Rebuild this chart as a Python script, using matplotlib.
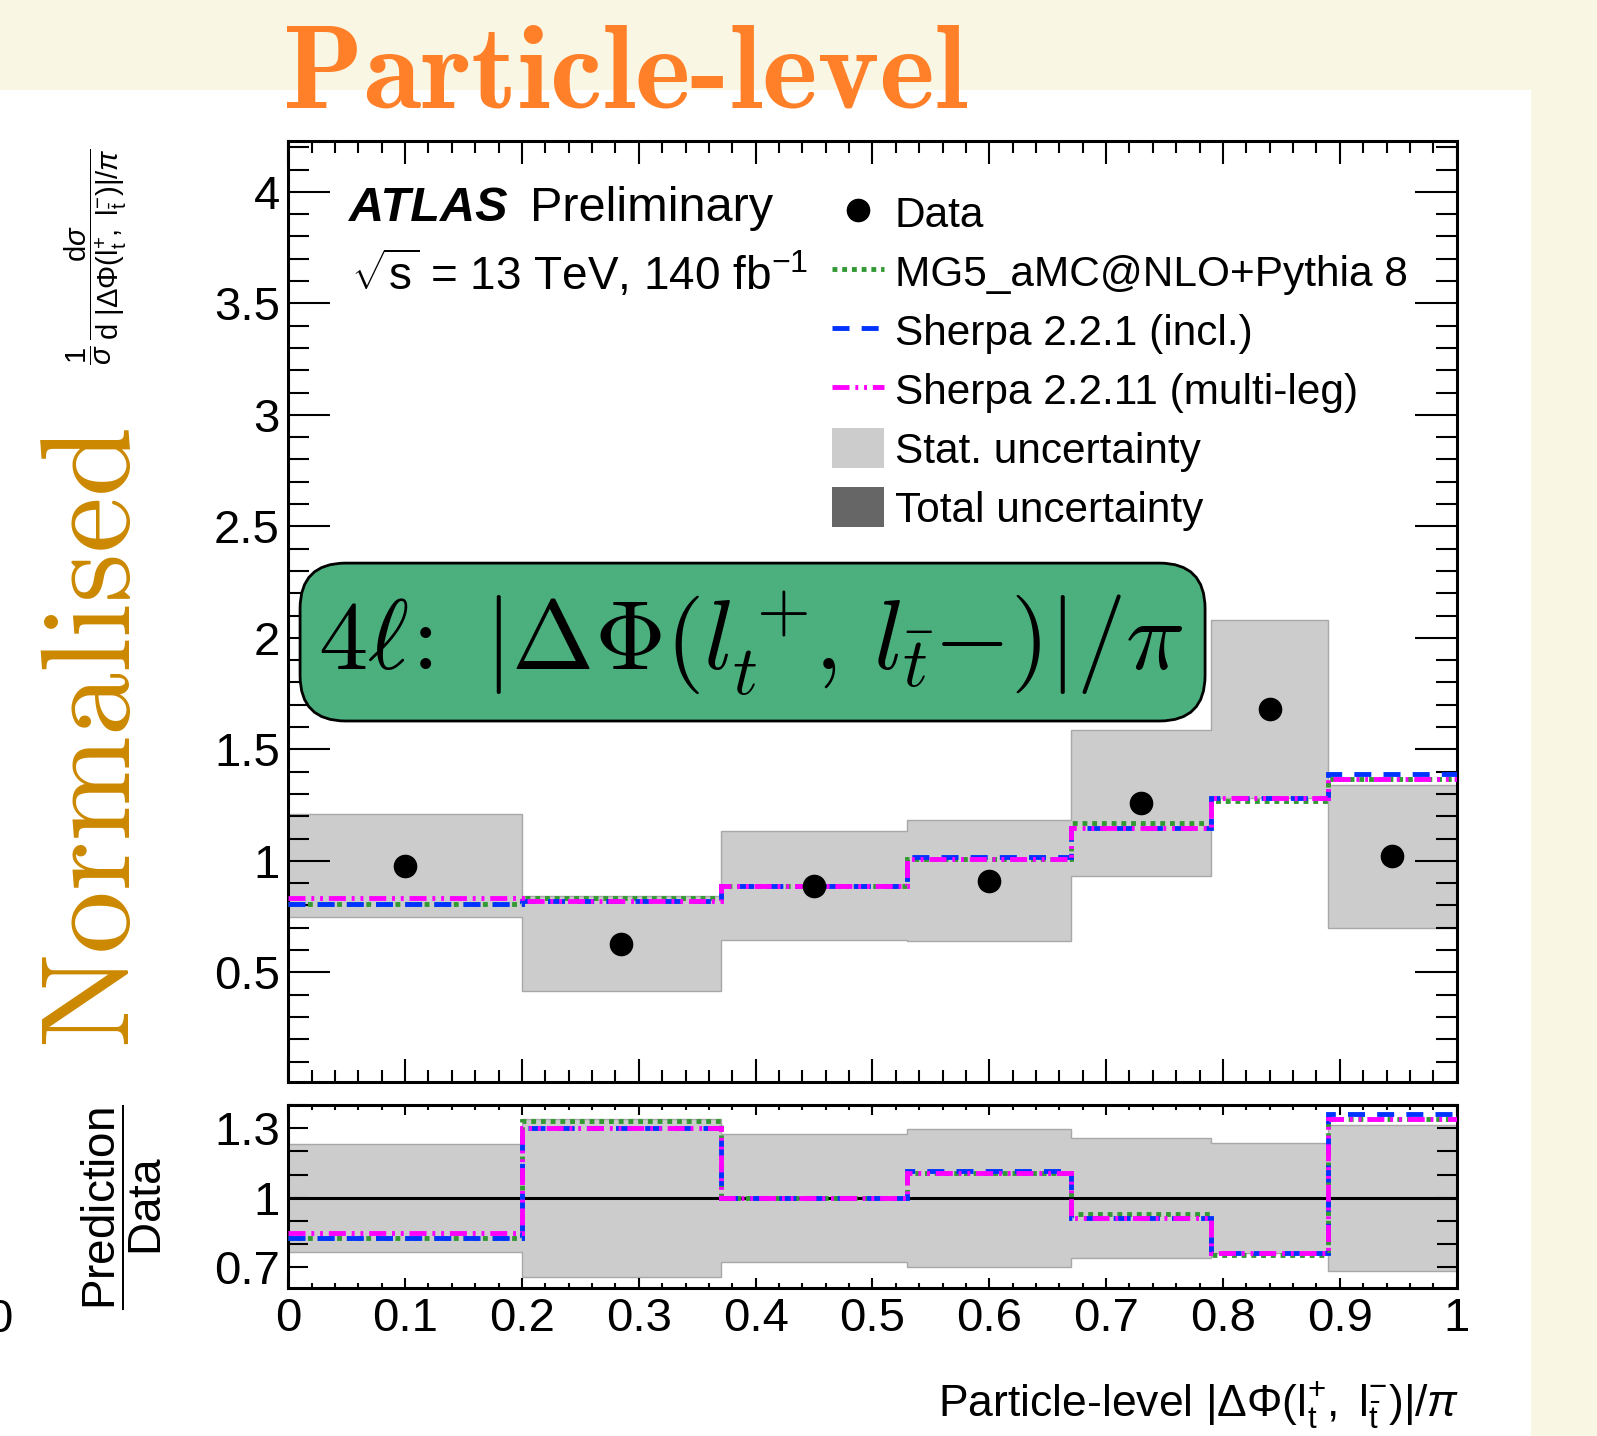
import numpy as np
import matplotlib
matplotlib.use('Agg')
import matplotlib.pyplot as plt
from matplotlib.patches import FancyBboxPatch, Patch, Rectangle
from matplotlib.lines import Line2D
from matplotlib.ticker import MultipleLocator, FixedLocator, FormatStrFormatter

plt.rcParams['font.family'] = ['Liberation Sans', 'DejaVu Sans']
plt.rcParams['mathtext.fontset'] = 'custom'
plt.rcParams['mathtext.rm'] = 'Liberation Sans'
plt.rcParams['mathtext.it'] = 'Liberation Sans:italic'
plt.rcParams['mathtext.bf'] = 'Liberation Sans:bold'

# |dPhi(l+, l-)|/pi binning
edges = [0.0, 0.2, 0.37, 0.53, 0.67, 0.79, 0.89, 1.0]
centres = [0.1, 0.285, 0.45, 0.6, 0.73, 0.84, 0.945]

# unfolded data and stat. uncertainty
data = [0.979, 0.628, 0.888, 0.911, 1.258, 1.682, 1.021]
stat_err = [0.229, 0.213, 0.245, 0.272, 0.327, 0.400, 0.320]

# predictions
mg5 = [0.808, 0.835, 0.886, 1.010, 1.171, 1.270, 1.366]
sherpa221 = [0.808, 0.818, 0.888, 1.015, 1.147, 1.283, 1.389]
sherpa2211 = [0.832, 0.818, 0.888, 1.007, 1.147, 1.283, 1.366]

c_mg5, c_sh1, c_sh2 = '#339933', '#0033ff', '#ff00ff'
ls_mg5 = (0, (1.0, 1.0))
ls_sh1 = (0, (3.5, 2.5))
ls_sh2 = (0, (3.5, 1.2, 0.6, 1.2, 0.6, 1.2))

d = np.array(data)
e = np.array(stat_err)

fig = plt.figure(figsize=(15.97, 14.36), dpi=100, facecolor='#faf6e4')
fig.add_artist(Rectangle((0, 0), 1531/1597, 1 - 90/1436, transform=fig.transFigure,
                         fc='white', ec='none', zorder=-10))

ax = fig.add_axes([0.1805, 0.2468, 0.7316, 0.6553])
rax = fig.add_axes([0.1805, 0.1028, 0.7316, 0.1277])

# --- main panel
ax.stairs(d + e, edges, baseline=d - e, fill=True, facecolor='#cccccc',
          edgecolor='#a8a8a8', lw=1, zorder=1)
ax.stairs(mg5, edges, baseline=None, color=c_mg5, lw=3.5, ls=ls_mg5, zorder=3)
ax.stairs(sherpa221, edges, baseline=None, color=c_sh1, lw=3.5, ls=ls_sh1, zorder=3)
ax.stairs(sherpa2211, edges, baseline=None, color=c_sh2, lw=3.5, ls=ls_sh2, zorder=3)
ax.plot(centres, data, 'o', color='k', ms=16, zorder=5)

ax.set_xlim(0, 1)
ax.set_ylim(0.01, 4.23)
ax.xaxis.set_major_locator(MultipleLocator(0.1))
ax.xaxis.set_minor_locator(MultipleLocator(0.02))
ax.yaxis.set_major_locator(MultipleLocator(0.5))
ax.yaxis.set_minor_locator(MultipleLocator(0.1))
ax.yaxis.set_major_formatter(FormatStrFormatter('%g'))
ax.tick_params(which='both', direction='in', top=True, right=True, width=1.5,
               labelbottom=False, labelsize=34, pad=6)
ax.tick_params(axis='y', which='major', length=30)
ax.tick_params(axis='y', which='minor', length=15)
ax.tick_params(axis='x', which='major', length=16.5)
ax.tick_params(axis='x', which='minor', length=8.6)
for s in ax.spines.values():
    s.set_linewidth(2.2)

ax.text(0.052, 0.9146, 'ATLAS', transform=ax.transAxes, fontsize=35,
        weight='bold', style='italic', va='baseline')
ax.text(0.207, 0.9146, 'Preliminary', transform=ax.transAxes, fontsize=35, va='baseline')
ax.text(0.054, 0.841, r'$\sqrt{\mathrm{s}}$ = 13 TeV, 140 fb$^{\mathrm{-1}}$',
        transform=ax.transAxes, fontsize=33, va='baseline')

handles = [Line2D([], [], marker='o', ls='none', color='k', ms=16),
           Line2D([], [], color=c_mg5, lw=3.5, ls=ls_mg5),
           Line2D([], [], color=c_sh1, lw=3.5, ls=ls_sh1),
           Line2D([], [], color=c_sh2, lw=3.5, ls=ls_sh2),
           Patch(fc='#cccccc', ec='none'),
           Patch(fc='#666666', ec='none')]
labels = ['Data', 'MG5_aMC@NLO+Pythia 8', 'Sherpa 2.2.1 (incl.)',
          'Sherpa 2.2.11 (multi-leg)', 'Stat. uncertainty', 'Total uncertainty']
ax.legend(handles, labels, loc='upper left', bbox_to_anchor=(0.465, 0.945),
          frameon=False, fontsize=30.5, handlelength=1.25, handleheight=1.07,
          handletextpad=0.24, labelspacing=0.37, borderpad=0, borderaxespad=0)

# observable tag
box = FancyBboxPatch((0.0101, 0.3832), 0.7746, 0.1678, transform=ax.transAxes,
                     boxstyle='round,pad=0,rounding_size=0.039', mutation_aspect=1.241,
                     fc='#4caf7e', ec='k', lw=2, zorder=10, clip_on=False)
ax.add_patch(box)
ax.text(0.396, 0.465, r'$4\ell\!:\ |\Delta\Phi(l_t^+\!,\,l_{\bar{t}}{-})|/\pi$',
        transform=ax.transAxes, math_fontfamily='cm', fontsize=71,
        ha='center', va='center', zorder=11)

# --- ratio panel
rel = e / d
rax.stairs(1 + rel, edges, baseline=1 - rel, fill=True, facecolor='#cccccc',
           edgecolor='#a8a8a8', lw=1, zorder=1)
rax.axhline(1, color='k', lw=2.2, zorder=2)
rax.stairs(np.array(mg5) / d, edges, baseline=None, color=c_mg5, lw=3.5, ls=ls_mg5, zorder=3)
rax.stairs(np.array(sherpa221) / d, edges, baseline=None, color=c_sh1, lw=3.5, ls=ls_sh1, zorder=3)
rax.stairs(np.array(sherpa2211) / d, edges, baseline=None, color=c_sh2, lw=3.5, ls=ls_sh2, zorder=3)

rax.set_xlim(0, 1)
rax.set_ylim(0.61, 1.40)
rax.xaxis.set_major_locator(MultipleLocator(0.1))
rax.xaxis.set_minor_locator(MultipleLocator(0.02))
rax.xaxis.set_major_formatter(FormatStrFormatter('%g'))
rax.yaxis.set_major_locator(FixedLocator([0.7, 1.0, 1.3]))
rax.yaxis.set_minor_locator(MultipleLocator(0.1))
rax.yaxis.set_major_formatter(FormatStrFormatter('%g'))
rax.tick_params(which='both', direction='in', top=True, right=True, width=1.5,
                labelsize=34, pad=6)
rax.tick_params(axis='y', which='both', length=14.4)
rax.tick_params(axis='x', which='major', length=7.2)
rax.tick_params(axis='x', which='minor', length=3.6)
for s in rax.spines.values():
    s.set_linewidth(2.2)

# --- axis titles and decorations
fig.text(0.914, 0.0139,
         r'Particle-level $|\Delta\Phi(\mathrm{l}^{+}_{\mathrm{t}},\ \mathrm{l}^{-}_{\bar{\mathrm{t}}})|/\pi$',
         fontsize=32, ha='right', va='baseline')
fig.text(0.060, 0.897,
         r'$\dfrac{1}{\sigma}\,\dfrac{\mathrm{d}\sigma}{\mathrm{d}\ |\Delta\Phi(\mathrm{l}^{+}_{\mathrm{t}},\ \mathrm{l}^{-}_{\bar{\mathrm{t}}})|/\pi}$',
         fontsize=21, rotation=90, ha='center', va='top')
fig.text(0.0764, 0.1595, r'$\dfrac{\mathrm{Prediction}}{\mathrm{Data}}$',
         fontsize=33, rotation=90, ha='center', va='center')
fig.text(-0.009, 0.0724, '0', fontsize=34, va='baseline')

fig.text(0.1772, 0.9248, 'Particle-level', fontsize=85, family='cmb10',
         color='#ff8029', va='baseline')
fig.text(0.059, 0.4895, 'Normalised', fontsize=91, family='cmr10',
         color='#cc8800', rotation=90, ha='center', va='center')

fig.savefig('out.png', dpi=100, facecolor=fig.get_facecolor())
